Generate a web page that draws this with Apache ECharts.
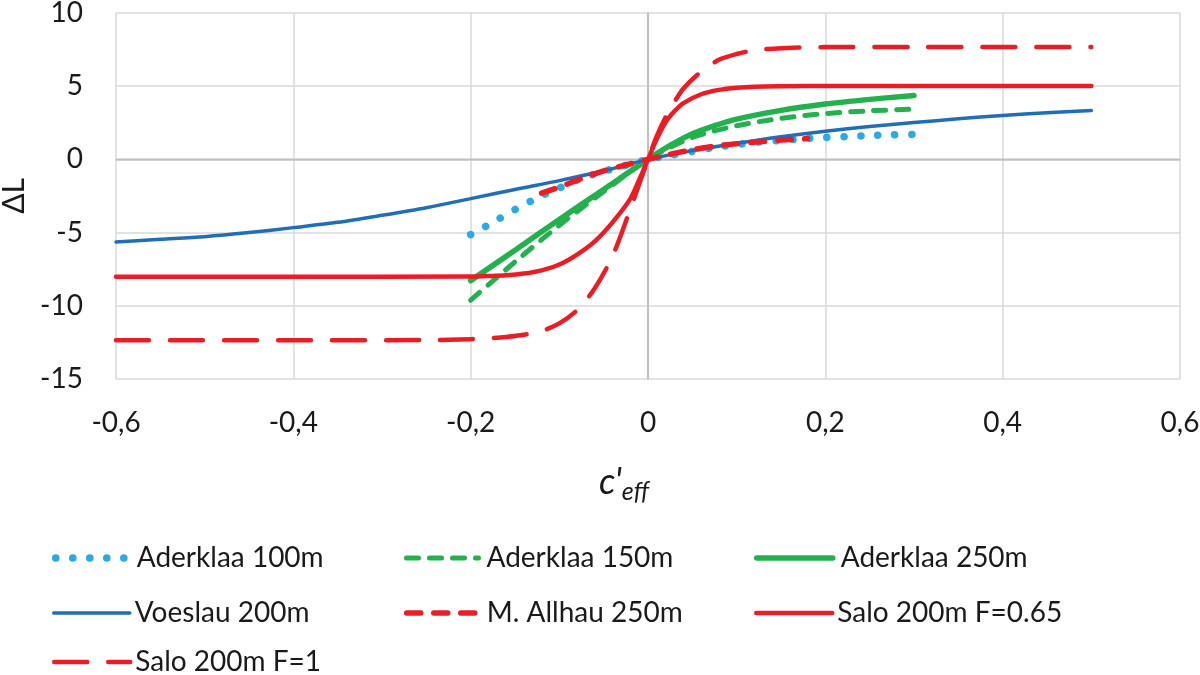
<!DOCTYPE html>
<html>
<head>
<meta charset="utf-8">
<script src="https://cdn.jsdelivr.net/npm/echarts@6/dist/echarts.min.js"></script>
<style>html,body{margin:0;padding:0;background:#fff}#c{width:1200px;height:675px}</style>
</head>
<body>
<div id="c"></div>
<script>
// ---- data ----
var xTicks = [-0.6, -0.4, -0.2, 0, 0.2, 0.4, 0.6];
var yTicks = [-15, -10, -5, 0, 5, 10];

var a100X = [-0.2,-0.175,-0.15,-0.125,-0.1,-0.075,-0.05,-0.025,0,0.025,0.05,0.075,0.1,0.125,0.15,0.175,0.2,0.225,0.25,0.275,0.3];
var a100Y = [-5.14,-4.3,-3.43,-2.63,-1.95,-1.3,-0.82,-0.4,0,0.28,0.55,0.82,1.02,1.18,1.3,1.41,1.5,1.56,1.63,1.68,1.71];

var a150X = [-0.2,-0.15,-0.1,-0.05,0,0.05,0.1,0.15,0.2,0.25,0.3];
var a150Y = [-9.62,-7.0,-4.5,-2.2,0,1.5,2.3,2.8,3.13,3.32,3.43];

var a250X = [-0.2,-0.15,-0.1,-0.05,0,0.025,0.05,0.075,0.1,0.15,0.2,0.25,0.3];
var a250Y = [-8.28,-6.2,-4.1,-2.05,0,0.95,1.75,2.3,2.75,3.35,3.78,4.1,4.37];

var voeX = [-0.6,-0.55,-0.5,-0.45,-0.4,-0.35,-0.3,-0.25,-0.2,-0.15,-0.1,-0.05,0,0.05,0.1,0.15,0.2,0.25,0.3,0.35,0.4,0.45,0.5];
var voeY = [-5.64,-5.46,-5.28,-5.0,-4.66,-4.3,-3.82,-3.3,-2.68,-2.05,-1.45,-0.78,0,0.6,1.1,1.55,1.93,2.25,2.52,2.77,3.0,3.18,3.34];

var allX = [-0.12,-0.1,-0.075,-0.05,-0.025,0,0.025,0.05,0.075,0.1,0.125,0.15,0.18];
var allY = [-2.3,-1.9,-1.3,-0.78,-0.38,0,0.35,0.66,0.9,1.07,1.2,1.32,1.42];

var s065X = [-0.6,-0.4,-0.2,-0.18,-0.16,-0.14,-0.12,-0.1,-0.08,-0.06,-0.04,-0.02,-0.01,0,0.01,0.02,0.03,0.04,0.06,0.08,0.1,0.12,0.15,0.2,0.3,0.4,0.5];
var s065Y = [-8.02,-8.02,-8.0,-7.97,-7.92,-7.8,-7.58,-7.18,-6.5,-5.6,-4.3,-2.7,-1.4,0,1.4,2.55,3.3,3.85,4.45,4.75,4.9,4.97,5.0,5.02,5.02,5.02,5.02];

var s1X = [-0.6,-0.4,-0.25,-0.2,-0.18,-0.16,-0.14,-0.12,-0.1,-0.08,-0.06,-0.04,-0.02,-0.01,0,0.01,0.02,0.03,0.04,0.06,0.08,0.1,0.12,0.15,0.2,0.3,0.4,0.5];
var s1Y = [-12.35,-12.35,-12.34,-12.28,-12.22,-12.13,-11.98,-11.72,-11.2,-10.3,-8.8,-6.6,-3.4,-1.7,0,1.6,2.9,3.95,4.85,6.0,6.8,7.2,7.45,7.6,7.67,7.67,7.67,7.67];

var names = ['Aderklaa 100m','Aderklaa 150m','Aderklaa 250m','Voeslau 200m','M. Allhau 250m','Salo 200m F=0.65','Salo 200m F=1'];

function pairs(xs, ys){ return xs.map(function(x,i){ return [x, ys[i]]; }); }

var FONT = 'Lato';
var TXT = '#1a1a1a';
var RED = '#ED1C24', GREEN = '#22B14C', LBLUE = '#29ABE2', BLUE = '#1F6EB7';

function lineSeries(name, xs, ys, color, width, type, z){
  return {
    name: name, type: 'line', data: pairs(xs, ys),
    showSymbol: false, symbol: 'none', smooth: 0.3,
    z: z, silent: true,
    lineStyle: { color: color, width: width, type: type, cap: 'round', join: 'round' },
    itemStyle: { color: color }
  };
}

// one legend per cell
function legendCell(name, left, top, w, pad){
  return {
    left: left, top: top, orient: 'horizontal', itemWidth: w, itemHeight: 14,
    data: [name], selectedMode: false, padding: 0,
    textStyle: { fontFamily: FONT, fontSize: 28, color: TXT, padding: [0,0,0,pad], lineHeight: 28 },
    lineStyle: { width: 'inherit' },
    itemStyle: { color: 'rgba(0,0,0,0)', borderWidth: 0, opacity: 0 }
  };
}

var chart = echarts.init(document.getElementById('c'), null, {renderer: 'canvas'});

var option = {
  animation: false,
  backgroundColor: '#fff',
  grid: { left: 116, right: 20, top: 13, bottom: 296, containLabel: false, outerBoundsMode: 'none' },
  xAxis: {
    type: 'value', min: -0.6, max: 0.6, interval: 0.2,
    axisLine: { show: false }, axisTick: { show: false },
    splitLine: { show: true, lineStyle: { color: '#d9d9d9', width: 1.5 } },
    axisLabel: {
      color: TXT, fontFamily: FONT, fontSize: 28, margin: 30,
      formatter: function(v){ var r = Math.round(v*10)/10; return String(r).replace('.', ','); }
    },
    name: "{c|c'}{s|eff}", nameLocation: 'middle', nameGap: 82,
    nameTextStyle: {
      padding: [0, 48, 0, 0],
      rich: {
        c: { fontFamily: FONT, fontStyle: 'italic', fontSize: 36, color: TXT },
        s: { fontFamily: FONT, fontStyle: 'italic', fontSize: 25, color: TXT, padding: [18, 0, 0, 0] }
      }
    }
  },
  yAxis: {
    type: 'value', min: -15, max: 10, interval: 5,
    axisLine: { show: false }, axisTick: { show: false },
    splitLine: { show: true, lineStyle: { color: '#d9d9d9', width: 1.5 } },
    axisLabel: { color: TXT, fontFamily: FONT, fontSize: 28, margin: 33 },
    name: 'ΔL', nameLocation: 'middle', nameGap: 86,
    nameTextStyle: { color: TXT, fontFamily: FONT, fontSize: 30 }
  },
  legend: [
    legendCell(names[0], 52, 544, 76, 0),
    legendCell(names[3], 52, 599, 76, 0),
    legendCell(names[6], 52, 648, 76, 0),
    legendCell(names[1], 404, 544, 72, 3),
    legendCell(names[4], 404, 599, 72, 3),
    legendCell(names[2], 754, 544, 76, 3),
    legendCell(names[5], 754, 599, 76, 0)
  ],
  series: [
    { name: 'axis-x0', type: 'line', data: [[0,-15],[0,10]], showSymbol: false, symbol: 'none', silent: true, z: 1,
      lineStyle: { color: '#bfbfbf', width: 2 } },
    { name: 'axis-y0', type: 'line', data: [[-0.6,0],[0.6,0]], showSymbol: false, symbol: 'none', silent: true, z: 1,
      lineStyle: { color: '#bfbfbf', width: 2 } },
    lineSeries(names[0], a100X, a100Y, LBLUE, 7.5, [0.1, 16.9], 3),
    lineSeries(names[1], a150X, a150Y, GREEN, 5, [12, 11], 4),
    lineSeries(names[2], a250X, a250Y, GREEN, 5.5, 'solid', 5),
    lineSeries(names[3], voeX, voeY, BLUE, 3.5, 'solid', 6),
    lineSeries(names[4], allX, allY, RED, 5.5, [14, 13], 7),
    lineSeries(names[5], s065X, s065Y, RED, 4.5, 'solid', 8),
    lineSeries(names[6], s1X, s1Y, RED, 4.5, [33, 21], 9)
  ]
};
chart.setOption(option);
</script>
</body>
</html>
